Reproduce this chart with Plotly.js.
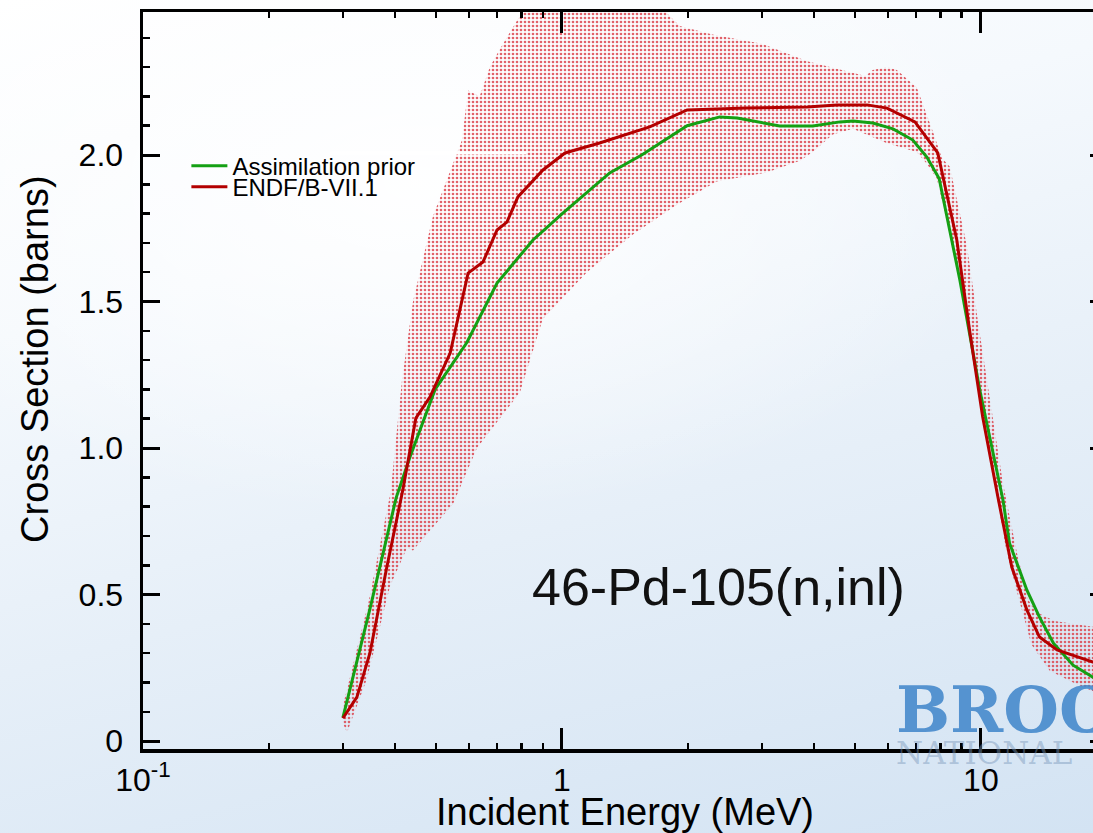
<!DOCTYPE html>
<html>
<head>
<meta charset="utf-8">
<script src="https://cdn.plot.ly/plotly-3.0.1.min.js"></script>
<style>
  html, body { margin: 0; padding: 0; overflow: hidden; width: 1093px; height: 833px; }
  body {
    background:
      radial-gradient(ellipse 55% 40% at 38% 22%, rgba(255,255,255,0.95) 0%, rgba(255,255,255,0) 100%),
      linear-gradient(165deg, #ffffff 0%, #f5f9fd 30%, #e6eff8 60%, #d3e3f3 100%);
  }
  #chart { width: 1120px; height: 833px; }
</style>
</head>
<body>
<div id="chart"></div>
<script>
// ---- Data ----
// Assimilation prior (green)
const priorE  = [0.300, 0.348, 0.402, 0.434, 0.498, 0.593, 0.700, 0.853, 1.005, 1.30, 1.55, 1.99, 2.38, 2.62, 3.31, 3.97, 4.61, 4.95, 5.52, 6.17, 6.88, 7.43, 7.95, 8.91, 9.94, 11.29, 11.7, 12.88, 13.8, 14.9, 16.6, 18.5, 20.0];
const priorXS = [0.080, 0.450, 0.830, 0.970, 1.200, 1.360, 1.563, 1.710, 1.802, 1.939, 2.000, 2.100, 2.130, 2.126, 2.099, 2.099, 2.113, 2.116, 2.109, 2.089, 2.051, 1.993, 1.920, 1.573, 1.198, 0.823, 0.676, 0.515, 0.423, 0.334, 0.259, 0.218, 0.200];

// ENDF/B-VII.1 (red)
const endfE  = [0.300, 0.324, 0.348, 0.382, 0.417, 0.434, 0.448, 0.484, 0.541, 0.597, 0.648, 0.700, 0.739, 0.785, 0.901, 1.017, 1.23, 1.62, 1.99, 2.76, 3.85, 4.53, 5.35, 5.97, 6.96, 7.89, 8.76, 9.42, 10.1, 10.98, 11.85, 12.88, 13.8, 15.2, 18.5, 20.0];
const endfXS = [0.078, 0.150, 0.300, 0.594, 0.857, 0.993, 1.102, 1.174, 1.324, 1.597, 1.635, 1.744, 1.771, 1.857, 1.949, 2.007, 2.041, 2.096, 2.154, 2.160, 2.164, 2.171, 2.171, 2.160, 2.113, 2.007, 1.710, 1.392, 1.106, 0.833, 0.594, 0.447, 0.355, 0.311, 0.270, 0.260];

// Uncertainty band (upper and lower envelopes)
const bandUpperE  = [0.300, 0.345, 0.390, 0.415, 0.441, 0.492, 0.577, 0.597, 0.636, 0.673, 0.710, 0.790, 0.900, 1.20, 1.60, 1.91, 2.30, 3.00, 3.85, 4.95, 5.30, 5.52, 5.97, 6.30, 7.03, 7.68, 8.07, 8.43, 9.26, 9.94, 10.68, 11.29, 12.2, 13.0, 13.6, 15.0, 18.5, 20.0];
const bandUpperXS = [0.120, 0.470, 0.850, 1.230, 1.500, 1.790, 2.050, 2.220, 2.200, 2.300, 2.360, 2.470, 2.560, 2.620, 2.550, 2.440, 2.410, 2.380, 2.320, 2.280, 2.270, 2.290, 2.300, 2.290, 2.230, 2.080, 1.990, 1.960, 1.690, 1.390, 1.100, 0.880, 0.640, 0.480, 0.440, 0.410, 0.390, 0.385];
const bandLowerE  = [0.300, 0.307, 0.342, 0.389, 0.427, 0.441, 0.550, 0.627, 0.794, 0.900, 1.147, 1.48, 1.88, 2.34, 3.08, 3.70, 3.97, 4.43, 4.95, 5.97, 7.03, 7.43, 7.85, 8.43, 9.26, 9.94, 10.45, 11.5, 12.4, 13.2, 14.6, 16.6, 18.5, 20.0];
const bandLowerXS = [0.060, 0.030, 0.210, 0.530, 0.660, 0.650, 0.810, 1.000, 1.190, 1.440, 1.600, 1.730, 1.830, 1.910, 1.940, 1.980, 2.010, 2.070, 2.090, 2.040, 2.010, 1.970, 1.920, 1.730, 1.460, 1.200, 0.990, 0.650, 0.470, 0.330, 0.240, 0.200, 0.170, 0.165];

// Tick labels
const xTickVals = [0.1, 1, 10];
const xTickText = ['10<sup>-1</sup>', '1', '10'];
const yTickVals = [0, 0.5, 1.0, 1.5, 2.0];
const yTickText = ['0', '0.5', '1.0', '1.5', '2.0'];

// ---- Chart ----
const FONT = 'Liberation Sans, Arial, Helvetica, sans-serif';

const bandX = bandUpperE.concat(bandLowerE.slice().reverse());
const bandY = bandUpperXS.concat(bandLowerXS.slice().reverse());

const traces = [
  {
    x: bandX, y: bandY, type: 'scatter', mode: 'lines',
    fill: 'toself',
    fillcolor: 'rgba(0,0,0,0)',
    fillpattern: { shape: '.', fgcolor: 'rgba(220,70,80,0.85)', bgcolor: 'rgba(0,0,0,0)', size: 4, solidity: 0.35 },
    line: { width: 0, color: 'rgba(0,0,0,0)' },
    hoverinfo: 'skip', showlegend: false
  },
  {
    x: priorE, y: priorXS, type: 'scatter', mode: 'lines',
    name: 'Assimilation prior',
    line: { color: '#14a014', width: 3 },
    legend: 'legend'
  },
  {
    x: endfE, y: endfXS, type: 'scatter', mode: 'lines',
    name: 'ENDF/B-VII.1',
    line: { color: '#b30000', width: 3 },
    legend: 'legend2'
  }
];

const axisCommon = {
  showline: true, linewidth: 3.5, linecolor: '#000',
  mirror: 'ticks', ticks: 'inside', tickwidth: 3, tickcolor: '#000',
  showgrid: false, zeroline: false,
  tickfont: { family: FONT, size: 32, color: '#000' }
};

const layout = {
  width: 1120, height: 833,
  margin: { l: 143, r: 13, t: 12, b: 84 },
  paper_bgcolor: 'rgba(0,0,0,0)',
  plot_bgcolor: 'rgba(0,0,0,0)',
  font: { family: FONT, color: '#000' },
  xaxis: Object.assign({}, axisCommon, {
    type: 'log',
    range: [-1, Math.log10(20)],
    tickmode: 'array', tickvals: xTickVals, ticktext: xTickText,
    ticklen: 21,
    minor: { dtick: 'D1', ticks: 'inside', ticklen: 6, tickwidth: 2.5, tickcolor: '#000', showgrid: false },
    title: { text: 'Incident Energy (MeV)', font: { family: FONT, size: 38, color: '#000' }, standoff: 10 },
    automargin: false
  }),
  yaxis: Object.assign({}, axisCommon, {
    range: [-0.027, 2.488],
    tickmode: 'array', tickvals: yTickVals, ticktext: yTickText,
    ticklen: 17,
    ticklabelstandoff: 10,
    minor: { dtick: 0.1, ticks: 'inside', ticklen: 7, tickwidth: 2.5, tickcolor: '#000', showgrid: false },
    automargin: false
  }),
  legend: {
    x: 0.045, y: 0.791, xanchor: 'left', yanchor: 'middle',
    bgcolor: 'rgba(0,0,0,0)', borderwidth: 0, itemwidth: 36,
    font: { family: FONT, size: 24, color: '#000' }
  },
  legend2: {
    x: 0.045, y: 0.7625, xanchor: 'left', yanchor: 'middle',
    bgcolor: 'rgba(0,0,0,0)', borderwidth: 0, itemwidth: 36,
    font: { family: FONT, size: 24, color: '#000' }
  },
  shapes: [
    { type: 'line', xref: 'paper', yref: 'paper', x0: 0.194, x1: 0.398, y0: 0.8087, y1: 0.8087,
      line: { color: '#ffffff', width: 3 }, layer: 'above' }
  ],
  annotations: [
    { text: 'Cross Section (barns)', xref: 'paper', yref: 'paper', x: -0.112, y: 0.528,
      xanchor: 'center', yanchor: 'middle', textangle: -90, showarrow: false,
      font: { family: FONT, size: 38, color: '#000' } },
    { text: '46-Pd-105(n,inl)', xref: 'paper', yref: 'paper', x: 0.5965, y: 0.2198,
      xanchor: 'center', yanchor: 'middle', showarrow: false,
      font: { family: FONT, size: 52, color: '#111' } },
    { text: '<b>BROOKHAVEN</b>', xref: 'paper', yref: 'paper', x: 0.779, y: 0.054,
      xanchor: 'left', yanchor: 'middle', showarrow: false,
      font: { family: 'DejaVu Serif, serif', size: 64, color: 'rgba(70,138,204,0.9)' } },
    { text: 'NATIONAL', xref: 'paper', yref: 'paper', x: 0.779, y: -0.006,
      xanchor: 'left', yanchor: 'middle', showarrow: false,
      font: { family: 'DejaVu Serif, serif', size: 31, color: 'rgba(120,150,185,0.45)' } }
  ]
};

Plotly.newPlot('chart', traces, layout, { displayModeBar: false, staticPlot: true });
</script>
</body>
</html>
